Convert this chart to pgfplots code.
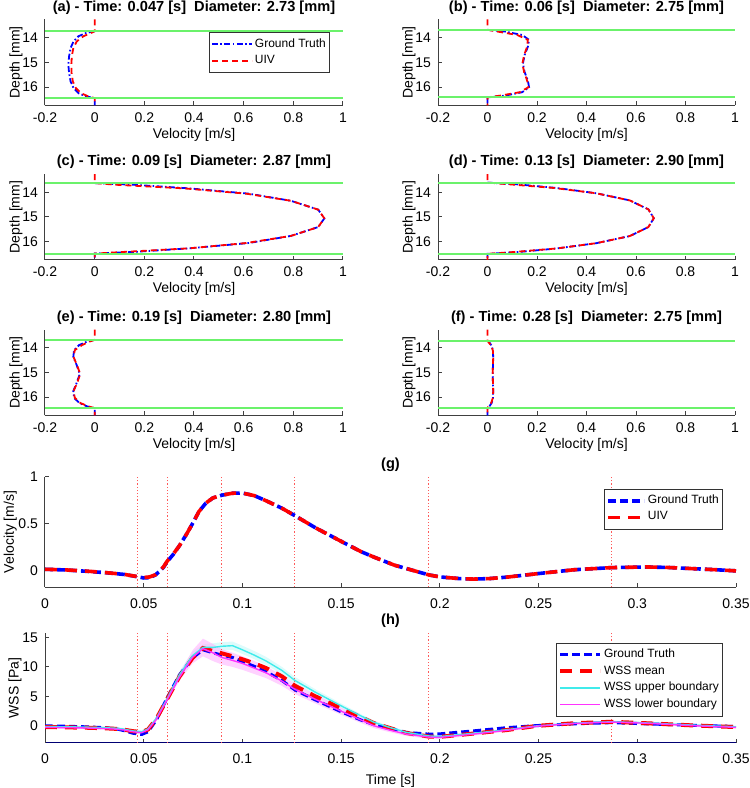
\documentclass[border=0pt]{standalone}
\usepackage{fontspec}
\setmainfont{Liberation Sans}
\usepackage{pgfplots}
\usepackage{pgfplotstable}
\pgfplotsset{compat=1.18}
\usepgfplotslibrary{fillbetween}

\definecolor{gtblue}{rgb}{0,0,1}
\definecolor{uivred}{rgb}{1,0,0}
\definecolor{wallgreen}{rgb}{0.42,0.95,0.42}
\definecolor{upcyan}{rgb}{0.25,0.92,0.92}
\definecolor{lomag}{rgb}{1,0.2,1}
\definecolor{vred}{rgb}{1,0.35,0.35}

% depth profiles: d [mm], gt, uiv [m/s]
\pgfplotstableread{
d gt uiv
13.25 nan 0
13.73 0 0
13.80 -0.035 -0.015
13.93 -0.065 -0.045
14.14 -0.085 -0.072
14.41 -0.097 -0.086
14.75 -0.103 -0.092
15.09 -0.106 -0.094
15.43 -0.103 -0.093
15.77 -0.097 -0.088
16.04 -0.085 -0.076
16.25 -0.065 -0.055
16.38 -0.035 -0.025
16.45 0 0
16.75 0 0
}\pa
\pgfplotstableread{
d gt uiv
13.25 nan 0
13.67 0 0
13.74 0.07 0.04
13.88 0.14 0.12
14.08 0.168 0.163
14.36 0.163 0.160
14.70 0.150 0.148
15.045 0.143 0.141
15.39 0.150 0.148
15.73 0.163 0.160
16.01 0.168 0.165
16.21 0.14 0.13
16.35 0.07 0.05
16.42 0 0
16.75 0 0
}\pb
\pgfplotstableread{
d gt uiv
13.25 nan 0
13.62 0 0
13.69 0.16 0.09
13.835 0.38 0.36
14.05 0.62 0.61
14.34 0.79 0.79
14.70 0.90 0.90
15.055 0.925 0.925
15.41 0.90 0.90
15.77 0.79 0.79
16.06 0.62 0.61
16.275 0.38 0.38
16.42 0.16 0.12
16.49 0 0
16.75 0 0
}\pc
\pgfplotstableread{
d gt uiv
13.25 nan 0
13.60 0 0
13.67 0.12 0.09
13.82 0.28 0.27
14.035 0.44 0.44
14.325 0.575 0.575
14.69 0.65 0.65
15.05 0.672 0.672
15.41 0.65 0.65
15.775 0.575 0.575
16.065 0.44 0.44
16.28 0.28 0.28
16.43 0.12 0.10
16.50 0 0
16.75 0 0
}\pd
\pgfplotstableread{
d gt uiv
13.25 nan 0
13.67 0 0
13.74 -0.03 -0.02
13.88 -0.062 -0.05
14.09 -0.083 -0.08
14.365 -0.086 -0.085
14.71 -0.072 -0.071
15.06 -0.060 -0.058
15.41 -0.072 -0.070
15.755 -0.086 -0.085
16.03 -0.083 -0.080
16.24 -0.062 -0.058
16.38 -0.03 -0.025
16.45 0 0
16.75 0 0
}\pe
\pgfplotstableread{
d gt uiv
13.25 nan 0
13.71 0 0
13.78 0.008 0.005
13.915 0.017 0.016
14.12 0.022 0.022
14.39 0.023 0.023
14.73 0.022 0.022
15.075 0.021 0.021
15.42 0.022 0.022
15.76 0.023 0.023
16.03 0.022 0.022
16.235 0.017 0.015
16.37 0.008 0.005
16.44 0 0
16.75 0 0
}\pf

% centreline velocity over time
\pgfplotstableread{
t gt uiv
0.000 0.010 0.010
0.010 0.003 0.004
0.020 -0.010 -0.008
0.030 -0.025 -0.024
0.040 -0.045 -0.044
0.045 -0.063 -0.062
0.050 -0.083 -0.078
0.053 -0.080 -0.072
0.056 -0.050 -0.048
0.060 0.030 0.035
0.0618 0.090 0.095
0.065 0.170 0.175
0.068 0.260 0.260
0.0715 0.380 0.380
0.075 0.510 0.510
0.078 0.630 0.630
0.0815 0.720 0.720
0.085 0.775 0.775
0.0896 0.805 0.805
0.095 0.826 0.826
0.100 0.828 0.828
0.106 0.800 0.800
0.112 0.745 0.745
0.120 0.665 0.665
0.1266 0.585 0.585
0.137 0.455 0.455
0.150 0.310 0.310
0.160 0.200 0.200
0.1667 0.140 0.140
0.177 0.054 0.054
0.1944 -0.050 -0.050
0.200 -0.072 -0.072
0.210 -0.090 -0.090
0.217 -0.095 -0.095
0.225 -0.090 -0.090
0.234 -0.074 -0.074
0.249 -0.038 -0.038
0.268 0.005 0.005
0.287 0.028 0.028
0.3045 0.035 0.035
0.315 0.030 0.030
0.327 0.018 0.018
0.340 0.005 0.005
0.350 -0.007 -0.007
}\vel

% wall shear stress
\pgfplotstableread{
t gt mean up uphi uplo lo lohi lolo
0.000 0.00 -0.20 -0.10 0.10 -0.30 -0.25 -0.05 -0.45
0.010 -0.05 -0.25 -0.15 0.05 -0.35 -0.30 -0.10 -0.50
0.020 -0.15 -0.30 -0.20 0.00 -0.40 -0.35 -0.15 -0.55
0.030 -0.30 -0.40 -0.30 -0.10 -0.50 -0.45 -0.25 -0.65
0.036 -0.50 -0.50 -0.40 -0.20 -0.60 -0.55 -0.35 -0.75
0.040 -0.80 -0.65 -0.55 -0.35 -0.75 -0.70 -0.50 -0.90
0.0446 -1.25 -0.90 -0.85 -0.60 -1.10 -1.00 -0.75 -1.25
0.049 -1.45 -1.05 -1.00 -0.70 -1.30 -1.15 -0.85 -1.45
0.0522 -1.00 -0.60 -0.50 -0.20 -0.80 -0.65 -0.35 -0.95
0.0564 1.00 1.20 1.30 1.60 1.00 1.10 1.40 0.80
0.0618 4.70 4.50 4.60 5.00 4.20 4.40 4.80 4.00
0.068 8.60 8.30 8.60 9.20 8.00 8.20 8.80 7.60
0.0747 11.50 11.50 11.90 12.60 11.20 11.60 12.80 10.60
0.080 12.90 13.20 13.30 13.80 12.80 13.10 14.80 11.80
0.085 12.40 12.70 13.30 14.00 12.60 12.40 13.90 11.00
0.0896 12.00 12.30 13.50 14.20 12.80 11.60 13.00 10.40
0.095 11.60 11.80 13.60 14.30 12.90 11.10 12.40 10.00
0.100 10.90 11.30 12.90 13.60 12.20 10.60 11.80 9.50
0.106 10.10 10.60 12.00 12.70 11.30 9.80 11.00 8.80
0.112 9.20 9.80 11.00 11.70 10.30 9.00 10.10 8.10
0.120 7.70 8.40 9.40 10.00 8.80 7.60 8.60 6.80
0.1266 6.10 6.80 7.70 8.30 7.10 6.20 7.10 5.40
0.137 4.40 5.00 5.70 6.20 5.20 4.50 5.30 3.80
0.150 2.40 3.00 3.40 3.80 3.00 2.50 3.10 1.90
0.160 1.00 1.50 1.70 2.00 1.40 1.00 1.50 0.50
0.1667 0.20 0.45 0.60 0.90 0.30 0.00 0.40 -0.40
0.175 -0.50 -0.40 -0.30 -0.05 -0.55 -0.75 -0.40 -1.10
0.183 -1.10 -1.20 -1.10 -0.85 -1.35 -1.40 -1.10 -1.70
0.1944 -1.40 -1.80 -1.70 -1.45 -1.95 -1.90 -1.60 -2.20
0.200 -1.35 -1.85 -1.80 -1.55 -2.05 -1.95 -1.65 -2.25
0.217 -0.85 -1.30 -1.25 -1.00 -1.50 -1.40 -1.15 -1.65
0.234 -0.30 -0.70 -0.65 -0.45 -0.85 -0.75 -0.55 -0.95
0.249 0.05 0.00 0.00 0.20 -0.20 -0.05 0.15 -0.25
0.268 0.35 0.45 0.45 0.65 0.25 0.40 0.60 0.20
0.287 0.55 0.70 0.70 0.90 0.50 0.65 0.85 0.45
0.3045 0.35 0.45 0.50 0.70 0.30 0.45 0.65 0.25
0.327 0.10 0.10 0.15 0.35 -0.05 0.05 0.25 -0.15
0.350 -0.10 -0.20 -0.15 0.05 -0.35 -0.25 -0.05 -0.45
}\wss

\pgfplotsset{
  every axis/.append style={font=\fontsize{7}{8}\selectfont},
  base/.style={
    scale only axis, anchor=south west,
    axis lines=left, axis line style={-, black!75, line width=0.5pt},
    tick align=inside, major tick length=2.2pt,
    tick style={black!75, line width=0.5pt},
    /pgf/number format/assume math mode=true,
    title style={font=\bfseries\fontsize{7.3}{8.5}\selectfont, yshift=-7pt},
    legend cell align=left,
  },
  prof/.style={
    base, width=149pt, height=43pt,
    xmin=-0.2, xmax=1, ymin=-16.75, ymax=-13.25,
    xtick={-0.2,0,0.2,0.4,0.6,0.8,1},
    ytick={-16,-15,-14}, yticklabels={16,15,14},
    xlabel={Velocity [m/s]}, ylabel={Depth [mm]},
    xlabel style={yshift=4pt}, ylabel style={yshift=-7pt},
  },
  legs/.style={anchor=north east, draw=black!80, outer sep=0pt,
    font=\fontsize{6}{7}\selectfont, inner sep=1pt, row sep=-1.5pt,
    nodes={inner xsep=1pt, inner ysep=2pt}},
  gtp/.style={gtblue, line width=0.9pt, dash pattern=on 3pt off 1.2pt on 0.8pt off 1.2pt},
  uivp/.style={uivred, line width=0.9pt, dash pattern=on 3pt off 2pt},
  wall/.style={wallgreen, line width=0.9pt},
  vline/.style={vred, line width=0.45pt, dash pattern=on 0.6pt off 1pt, forget plot},
}

\begin{document}
\begin{tikzpicture}

% (a)
\begin{axis}[prof, at={(22.5pt,341.25pt)},
  title={(a) - Time: 0.047 [s]\ \ Diameter: 2.73 [mm]},
  legend style={legs, at={(0.956,0.85)}},
  legend image code/.code={\draw[#1] (0pt,0pt) -- (20pt,0pt);}]
\addplot[gtp] table[x=gt, y expr=-\thisrow{d}] {\pa};
\addlegendentry{Ground Truth}
\addplot[uivp] table[x=uiv, y expr=-\thisrow{d}] {\pa};
\addlegendentry{UIV}
\addplot[wall, forget plot] coordinates {(-0.2,-13.73) (1,-13.73)};
\addplot[wall, forget plot] coordinates {(-0.2,-16.45) (1,-16.45)};
\end{axis}

% (b)
\begin{axis}[prof, at={(219pt,341.25pt)}, width=148.5pt,
  title={(b) - Time: 0.06 [s]\ \ Diameter: 2.75 [mm]}]
\addplot[gtp] table[x=gt, y expr=-\thisrow{d}] {\pb};
\addplot[uivp] table[x=uiv, y expr=-\thisrow{d}] {\pb};
\addplot[wall] coordinates {(-0.2,-13.67) (1,-13.67)};
\addplot[wall] coordinates {(-0.2,-16.42) (1,-16.42)};
\end{axis}

% (c)
\begin{axis}[prof, at={(22.5pt,264pt)},
  title={(c) - Time: 0.09 [s]\ \ Diameter: 2.87 [mm]}]
\addplot[gtp] table[x=gt, y expr=-\thisrow{d}] {\pc};
\addplot[uivp] table[x=uiv, y expr=-\thisrow{d}] {\pc};
\addplot[wall] coordinates {(-0.2,-13.62) (1,-13.62)};
\addplot[wall] coordinates {(-0.2,-16.49) (1,-16.49)};
\end{axis}

% (d)
\begin{axis}[prof, at={(219pt,264pt)}, width=148.5pt,
  title={(d) - Time: 0.13 [s]\ \ Diameter: 2.90 [mm]}]
\addplot[gtp] table[x=gt, y expr=-\thisrow{d}] {\pd};
\addplot[uivp] table[x=uiv, y expr=-\thisrow{d}] {\pd};
\addplot[wall] coordinates {(-0.2,-13.60) (1,-13.60)};
\addplot[wall] coordinates {(-0.2,-16.50) (1,-16.50)};
\end{axis}

% (e)
\begin{axis}[prof, at={(22.5pt,186.25pt)},
  title={(e) - Time: 0.19 [s]\ \ Diameter: 2.80 [mm]}]
\addplot[gtp] table[x=gt, y expr=-\thisrow{d}] {\pe};
\addplot[uivp] table[x=uiv, y expr=-\thisrow{d}] {\pe};
\addplot[wall] coordinates {(-0.2,-13.67) (1,-13.67)};
\addplot[wall] coordinates {(-0.2,-16.45) (1,-16.45)};
\end{axis}

% (f)
\begin{axis}[prof, at={(219pt,186.25pt)}, width=148.5pt,
  title={(f) - Time: 0.28 [s]\ \ Diameter: 2.75 [mm]}]
\addplot[gtp] table[x=gt, y expr=-\thisrow{d}] {\pf};
\addplot[uivp] table[x=uiv, y expr=-\thisrow{d}] {\pf};
\addplot[wall] coordinates {(-0.2,-13.71) (1,-13.71)};
\addplot[wall] coordinates {(-0.2,-16.44) (1,-16.44)};
\end{axis}

% (g)
\begin{axis}[base, at={(22.5pt,100.5pt)}, width=345.5pt, height=55pt,
  xmin=0, xmax=0.35, ymin=-0.18, ymax=1,
  xtick={0,0.05,0.1,0.15,0.2,0.25,0.3,0.35}, ytick={0,0.5,1},
  xticklabel style={/pgf/number format/fixed, /pgf/number format/precision=2, yshift=-2.5pt},
  ylabel={Velocity [m/s]}, ylabel style={yshift=-6pt},
  title={(g)},
  legend style={legs, at={(0.981,0.891)}},
  legend image code/.code={\draw[#1] (0pt,0pt) -- (18pt,0pt);}]
\addplot[vline] coordinates {(0.0466,-0.18) (0.0466,1)};
\addplot[vline] coordinates {(0.0618,-0.18) (0.0618,1)};
\addplot[vline] coordinates {(0.0896,-0.18) (0.0896,1)};
\addplot[vline] coordinates {(0.1266,-0.18) (0.1266,1)};
\addplot[vline] coordinates {(0.1944,-0.18) (0.1944,1)};
\addplot[vline] coordinates {(0.287,-0.18) (0.287,1)};
\addplot[gtblue, line width=1.8pt, dash pattern=on 4pt off 2pt] table[x=t, y=gt] {\vel};
\addlegendentry{Ground Truth}
\addplot[uivred, line width=1.8pt, dash pattern=on 6pt off 4pt] table[x=t, y=uiv] {\vel};
\addlegendentry{UIV}
\end{axis}

% (h)
\begin{axis}[base, at={(22.5pt,22.5pt)}, width=345.5pt, height=55pt,
  xmin=0, xmax=0.35, ymin=-2.9, ymax=15.75,
  xtick={0,0.05,0.1,0.15,0.2,0.25,0.3,0.35}, ytick={0,5,10,15},
  xticklabel style={/pgf/number format/fixed, /pgf/number format/precision=2, yshift=-2pt},
  x axis line style={draw=blue!45!black},
  xlabel={Time [s]}, xlabel style={yshift=1.5pt},
  ylabel={WSS [Pa]}, ylabel style={yshift=-6.5pt},
  title={(h)},
  legend style={legs, at={(0.981,0.909)}},
  legend image code/.code={\draw[#1] (0pt,0pt) -- (20pt,0pt);}]
\addplot[vline] coordinates {(0.0466,-2.9) (0.0466,15.75)};
\addplot[vline] coordinates {(0.0618,-2.9) (0.0618,15.75)};
\addplot[vline] coordinates {(0.0896,-2.9) (0.0896,15.75)};
\addplot[vline] coordinates {(0.1266,-2.9) (0.1266,15.75)};
\addplot[vline] coordinates {(0.1944,-2.9) (0.1944,15.75)};
\addplot[vline] coordinates {(0.287,-2.9) (0.287,15.75)};
\addplot[name path=uh, draw=none, forget plot] table[x=t, y=uphi] {\wss};
\addplot[name path=ul, draw=none, forget plot] table[x=t, y=uplo] {\wss};
\addplot[upcyan!35, fill opacity=0.5, forget plot] fill between[of=uh and ul];
\addplot[name path=mh, draw=none, forget plot] table[x=t, y=lohi] {\wss};
\addplot[name path=ml, draw=none, forget plot] table[x=t, y=lolo] {\wss};
\addplot[lomag!40, fill opacity=0.55, forget plot] fill between[of=mh and ml];
\addplot[gtblue, line width=1.5pt, dash pattern=on 4pt off 2pt] table[x=t, y=gt] {\wss};
\addlegendentry{Ground Truth}
\addplot[uivred, line width=2pt, dash pattern=on 6pt off 4pt] table[x=t, y=mean] {\wss};
\addlegendentry{WSS mean}
\addplot[upcyan, line width=0.7pt] table[x=t, y=up] {\wss};
\addlegendentry{WSS upper boundary}
\addplot[lomag, line width=0.7pt] table[x=t, y=lo] {\wss};
\addlegendentry{WSS lower boundary}
\end{axis}

\pgfresetboundingbox
\path[use as bounding box] (0,0) rectangle (375pt,394pt);
\end{tikzpicture}
\end{document}
